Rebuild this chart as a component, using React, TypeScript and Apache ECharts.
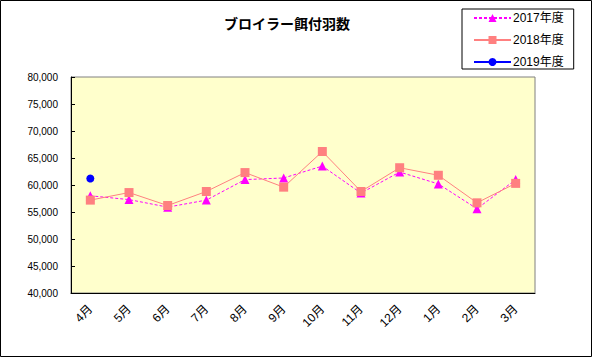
import React, { useEffect, useRef } from "react";
import * as echarts from "echarts";

const categories = ["4月", "5月", "6月", "7月", "8月", "9月", "10月", "11月", "12月", "1月", "2月", "3月"];
const seriesNames = ["2017年度", "2018年度", "2019年度"];
const values2017 = [58000, 57300, 55900, 57200, 61000, 61300, 63500, 58500, 62400, 60200, 55600, 61000];
const values2018 = [57200, 58600, 56200, 58800, 62300, 59600, 66200, 58800, 63200, 61800, 56700, 60300];
const values2019: (number | null)[] = [61200, null, null, null, null, null, null, null, null, null, null, null];
const titleText = "ブロイラー餌付羽数";

const FONT = "'Liberation Sans', 'Noto Sans CJK JP', sans-serif";

export default function App() {
  const ref = useRef<HTMLDivElement>(null);
  useEffect(() => {
    if (!ref.current) return;
    const chart = echarts.init(ref.current, null, { renderer: "svg" });
    chart.setOption({
      animation: false,
      backgroundColor: "#ffffff",
      title: {
        text: titleText,
        left: 282,
        textAlign: "center",
        top: 11,
        textStyle: { fontSize: 14, fontWeight: "bold", color: "#000", fontFamily: "'Noto Sans CJK JP', sans-serif" },
      },
      legend: {
        orient: "vertical",
        left: 462,
        top: 9,
        padding: [3, 10, 1, 11],
        itemGap: 10,
        itemWidth: 37,
        itemHeight: 10,
        backgroundColor: "#ffffff",
        borderColor: "#000",
        borderWidth: 1,
        borderRadius: 0,
        data: seriesNames,
        textStyle: { fontSize: 12, color: "#000", fontFamily: FONT, lineHeight: 12, padding: [0, 0, 0, -3] },
      },
      grid: {
        left: 71,
        top: 77,
        width: 464,
        height: 216,
        containLabel: false,
        show: true,
        backgroundColor: "#FFFFCC",
        borderColor: "#808080",
        borderWidth: 1,
      },
      xAxis: {
        type: "category",
        data: categories,
        boundaryGap: true,
        axisLine: { lineStyle: { color: "#000", width: 1 } },
        axisTick: { inside: true, length: 5, lineStyle: { color: "#000" } },
        axisLabel: { rotate: 45, margin: 14, fontSize: 12, color: "#000", fontFamily: FONT, interval: 0 },
        splitLine: { show: false },
      },
      yAxis: {
        type: "value",
        min: 40000,
        max: 80000,
        interval: 5000,
        axisLine: { show: true, lineStyle: { color: "#000", width: 1 } },
        axisTick: { show: true, inside: true, length: 4, lineStyle: { color: "#000" } },
        axisLabel: {
          margin: 13,
          fontSize: 10,
          color: "#000",
          fontFamily: FONT,
          formatter: (v: number) => v.toLocaleString("en-US"),
        },
        splitLine: { show: false },
      },
      series: [
        {
          name: seriesNames[0],
          type: "line",
          data: values2017,
          symbol: "triangle",
          symbolSize: 9,
          itemStyle: { color: "#FF00FF" },
          lineStyle: { color: "#FF00FF", width: 1, type: [3, 2] },
          z: 2,
        },
        {
          name: seriesNames[1],
          type: "line",
          data: values2018,
          symbol: "rect",
          symbolSize: 9,
          itemStyle: { color: "#FF8080" },
          lineStyle: { color: "#FF8080", width: 1 },
          z: 3,
        },
        {
          name: seriesNames[2],
          type: "line",
          data: values2019,
          symbol: "circle",
          symbolSize: 8,
          showSymbol: true,
          connectNulls: false,
          itemStyle: { color: "#0000FF" },
          lineStyle: { color: "#0000FF", width: 1 },
          z: 4,
        },
      ],
      graphic: [
        {
          type: "rect",
          shape: { x: 0.5, y: 0.5, width: 591, height: 356 },
          style: { fill: "none", stroke: "#000", lineWidth: 1 },
          silent: true,
          z: 100,
        },
      ],
    });
    return () => chart.dispose();
  }, []);
  return <div ref={ref} style={{ position: "fixed", left: 0, top: 0, width: 592, height: 357 }} />;
}
